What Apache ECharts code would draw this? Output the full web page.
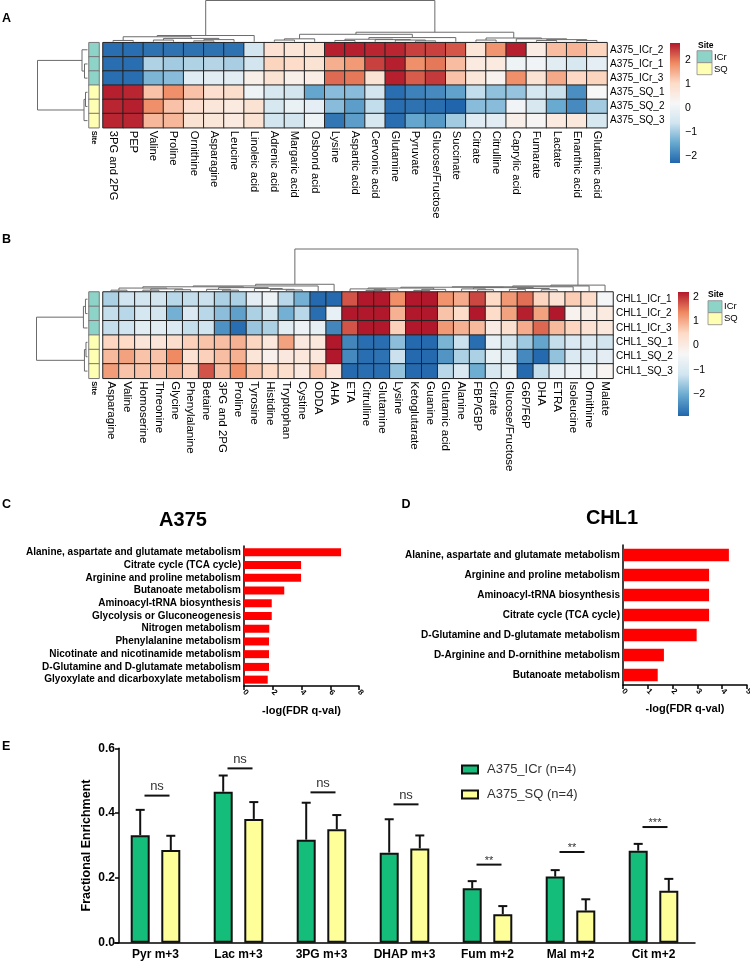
<!DOCTYPE html>
<html><head><meta charset="utf-8">
<script src="https://cdn.jsdelivr.net/npm/echarts@6/dist/echarts.min.js"></script>
<style>html,body{margin:0;padding:0;background:#fff}#c{width:750px;height:963px}</style>
</head><body><div id="c"></div>
<script>
// ---------------- Panel A heatmap ----------------
const aCols = ['3PG and 2PG','PEP','Valine','Proline','Ornithine','Asparagine','Leucine','Linoleic acid','Adrenic acid','Margaric acid','Osbond acid','Lysine','Aspartic acid','Cervonic acid','Glutamine','Pyruvate','Glucose/Fructose','Succinate','Citrate','Citrulline','Caprylic acid','Fumarate','Lactate','Enanthic acid','Glutamic acid'];
const aRows = ['A375_ICr_2','A375_ICr_1','A375_ICr_3','A375_SQ_1','A375_SQ_2','A375_SQ_3'];
const aSite = [0,0,0,1,1,1];
// values per metabolite (column), rows in aRows order
const aVals = [
 [-2.2,-2.2,-2.2,2.65,2.6,2.6],[-2.2,-2.2,-2.2,2.6,2.65,2.6],[-2.15,-0.9,-1.3,1.3,1.8,1.4],[-2.15,-1.0,-1.2,1.8,1.3,1.4],
 [-2.15,-0.9,-0.3,1.3,0.9,0.8],[-2.15,-0.85,-0.25,0.9,0.7,0.7],[-2.15,-0.95,-0.25,0.95,0.6,0.6],[-0.6,-0.6,0.45,0.0,0.8,0.8],
 [0.85,1.1,0.8,-0.5,-0.5,-0.6],[0.75,1.0,0.45,-0.6,-0.1,-0.6],[0.8,0.8,0.5,-1.5,-0.2,0.0],[2.65,1.5,2.1,-1.2,-1.2,-2.1],
 [2.65,1.7,2.0,-1.2,-1.6,-1.6],[2.6,2.4,0.8,-0.6,-0.75,-0.5],[2.6,2.65,2.65,-2.2,-2.2,-2.2],[2.4,1.8,2.2,-1.95,-2.15,-1.5],
 [2.4,2.0,2.45,-1.85,-2.2,-1.65],[2.25,1.35,1.3,-1.55,-2.3,-1.0],[0.75,0.6,0.7,-0.75,-1.2,-0.3],[1.75,0.6,0.35,-1.15,-1.2,-0.25],
 [2.65,0.0,1.8,-1.1,0.05,0.45],[0.55,0.05,0.8,-0.55,-0.5,0.25],[1.35,-0.25,1.55,-0.7,-1.45,0.6],[1.45,-0.5,1.05,-1.8,-1.85,0.65],
 [1.1,-0.2,1.1,0.2,-1.0,-0.5]
];
const aRange = [-2.3, 2.7];
const aTicks = [-2,-1,0,1,2];

// ---------------- Panel B heatmap ----------------
const bCols = ['Asparagine','Valine','Homoserine','Threonine','Glycine','Phenylalanine','Betaine','3PG and 2PG','Proline','Tyrosine','Histidine','Tryptophan','Cystine','ODDA','AHA','ETA','Citrulline','Glutamine','Lysine','Ketoglutarate','Guanine','Glutamic acid','Alanine','FBP/GBP','Citrate','Glucose/Fructose','G6P/F6P','DHA','ETRA','Isoleucine','Ornithine','Malate'];
const bRows = ['CHL1_ICr_1','CHL1_ICr_2','CHL1_ICr_3','CHL1_SQ_1','CHL1_SQ_2','CHL1_SQ_3'];
const bSite = [0,0,0,1,1,1];
const bVals = [
 [-1.5,-1.3,-1.3,0.55,0.85,1.15],[-1.2,-1.4,-1.2,0.5,1.1,0.75],[-1.15,-1.1,-0.85,0.2,0.75,0.75],[-1.15,-1.15,-0.85,0.2,0.75,0.75],
 [-1.4,-1.95,-1.0,0.4,1.35,0.9],[-1.3,-1.0,-1.3,0.6,0.3,0.6],[-1.25,-1.4,-1.2,0.75,0.6,1.75],[-1.5,-1.75,-2.35,0.8,0.8,0.8],
 [-1.5,-2.15,-2.8,0.95,0.95,1.3],[-0.8,-1.5,-1.65,0.55,0.2,0.7],[-0.55,-1.15,-1.5,0.15,-0.15,0.5],[-1.4,-1.95,-0.85,1.1,0.1,0.4],
 [-1.95,-1.4,-0.6,0.1,0.15,0.1],[-2.85,-2.8,-0.75,0.15,0.15,0.7],[-2.85,-0.7,-2.5,2.2,2.2,0.2],[1.75,2.2,1.75,-2.5,-2.45,-2.85],
 [2.2,2.2,2.2,-2.8,-2.8,-2.8],[2.2,2.2,2.2,-2.8,-2.75,-2.8],[1.3,0.95,0.6,-1.75,-1.25,-1.7],[2.2,2.2,2.2,-2.85,-2.85,-2.85],
 [2.2,2.2,2.2,-2.85,-2.85,-2.85],[1.25,0.75,1.2,-1.9,-2.3,-1.4],[1.0,0.45,0.95,-1.25,-1.5,-1.0],[1.85,2.2,0.85,-2.8,-1.5,-2.0],
 [0.5,0.45,0.0,-0.7,-0.65,-1.05],[1.2,1.1,0.35,-1.15,-1.0,-0.75],[1.55,2.15,1.0,-1.6,-2.45,-2.85],[0.55,1.1,1.6,-2.1,-2.85,-1.3],
 [0.3,2.2,0.85,-1.3,-1.7,-0.75],[0.65,-0.2,0.55,-1.0,-1.0,-0.6],[0.45,-0.1,0.3,-1.0,-1.0,-0.55],[-0.45,0.05,0.15,-1.15,-0.8,-0.25]
];
const bRange = [-2.9, 2.2];
const bTicks = [-2,-1,0,1,2];

// dendrogram trees: [height, left, right] / leaf index
const aColTree = [1,
 [0.15,[0.12,[0.03,0,1],[0.08,[0.04,2,3],[0.05,[0.02,4,5],6]]],7],
 [0.23,[0.18,[0.07,[0.04,8,9],10],[0.1,[0.06,[0.03,11,12],[0.05,13,[0.04,14,[0.02,15,16]]]],17]],[0.09,[0.04,18,19],[0.07,20,[0.05,[0.03,21,22],[0.03,23,24]]]]]];
const aRowTree = [1,[0.11,0,[0.06,1,2]],[0.07,[0.04,3,4],5]];
const bColTree = [1,
 [0.16,[0.12,[0.1,[0.07,[0.02,0,1],[0.05,[0.02,2,3],[0.03,4,5]]],[0.08,[0.04,6,[0.02,7,8]],[0.06,9,[0.04,10,[0.025,11,12]]]]],13],14],
 [0.14,[0.12,[0.1,[0.09,[0.07,[0.05,15,[0.03,[0.015,16,17],18]],[0.04,[0.015,19,20],21]],[0.08,[0.05,22,[0.03,23,24]],[0.06,[0.04,25,26],[0.03,27,28]]]],29],30],31]];
const bRowTree = [1,[0.08,[0.04,0,1],2],[0.06,[0.03,3,4],5]];

// ---------------- Panel C / D ----------------
const cCats = ['Alanine, aspartate and glutamate metabolism','Citrate cycle (TCA cycle)','Arginine and proline metabolism','Butanoate metabolism','Aminoacyl-tRNA biosynthesis','Glycolysis or Gluconeogenesis','Nitrogen metabolism','Phenylalanine metabolism','Nicotinate and nicotinamide metabolism','D-Glutamine and D-glutamate metabolism','Glyoxylate and dicarboxylate metabolism'];
const cVals = [6.75,3.97,3.97,2.8,1.93,1.93,1.76,1.74,1.74,1.74,1.65];
const dCats = ['Alanine, aspartate and glutamate metabolism','Arginine and proline metabolism','Aminoacyl-tRNA biosynthesis','Citrate cycle (TCA cycle)','D-Glutamine and D-glutamate metabolism','D-Arginine and D-ornithine metabolism','Butanoate metabolism'];
const dVals = [4.27,3.47,3.47,3.47,2.97,1.65,1.40];

// ---------------- Panel E ----------------
const eCats = ['Pyr m+3','Lac m+3','3PG m+3','DHAP m+3','Fum m+2','Mal m+2','Cit m+2'];
const icrMean = [0.332,0.466,0.318,0.278,0.168,0.204,0.284];
const icrErr  = [0.078,0.050,0.114,0.103,0.022,0.020,0.021];
const sqMean  = [0.286,0.382,0.350,0.291,0.088,0.099,0.160];
const sqErr   = [0.044,0.052,0.044,0.040,0.025,0.035,0.037];
const sigY    = [0.454,0.538,0.464,0.427,0.241,0.280,0.357];
const sigText = ['ns','ns','ns','ns','**','**','***'];
const eNames  = ['A375_ICr (n=4)','A375_SQ (n=4)'];

// ---------------- styling ----------------
const RDBU = ['#2166AC','#67A9CF','#D1E5F0','#F7F7F7','#FDDBC7','#EF8A62','#B2182B'];
const TEAL = '#8DD3C7', YEL = '#FFFFB3';
const GREEN = '#14BE7A', LYEL = '#FFFF99';
const FONT = "'Liberation Sans', Arial, sans-serif";
const BAR_W = 19, GAP_R = 0.61;
const BAR_OFF = BAR_W * (1 + GAP_R) / 2;

function heatData(cols){ const d=[]; cols.forEach((c,i)=>c.forEach((v,j)=>d.push([i,j,v]))); return d; }
function siteData(s){ return s.map((v,j)=>[0,j,v]); }
const minus = v => (v<0?'\u2212':'') + Math.abs(v);

const chart = echarts.init(document.getElementById('c'), null, {width:750, height:963});

const noAxis = {axisLine:{show:false}, axisTick:{show:false}, splitLine:{show:false}};
const blk = {color:'#000', width:1.5};

function cbarRender(params, api){
  const t = api.coord([0, api.value(2)]), b = api.coord([0, api.value(1)]);
  const w = api.size([1,0])[0];
  const stops = RDBU.slice().reverse().map((c,i)=>({offset:i/(RDBU.length-1), color:c}));
  return {type:'rect', shape:{x:t[0]-w/2, y:t[1], width:w, height:b[1]-t[1]},
    style:{fill:new echarts.graphic.LinearGradient(0,0,0,1,stops)}};
}
function errRender(sign){
  return function(params, api){
    const cat = api.value(0), m = api.value(1), e = api.value(2);
    const p0 = api.coord([cat, m]), p1 = api.coord([cat, m+e]);
    const x = p0[0] + sign*BAR_OFF;
    return {type:'group', children:[
      {type:'line', shape:{x1:x,y1:p0[1],x2:x,y2:p1[1]}, style:{stroke:'#111', lineWidth:2}},
      {type:'line', shape:{x1:x-4.5,y1:p1[1],x2:x+4.5,y2:p1[1]}, style:{stroke:'#111', lineWidth:2}}
    ]};
  };
}
function sigRender(params, api){
  const p = api.coord([api.value(0), api.value(1)]);
  const t = sigText[params.dataIndex];
  const star = t.indexOf('*') >= 0;
  return {type:'group', children:[
    {type:'line', shape:{x1:p[0]-11,y1:p[1],x2:p[0]+14,y2:p[1]}, style:{stroke:'#111', lineWidth:2}},
    {type:'text', x:p[0]+1.5, y:p[1]-(star?4:9), style:{text:t, align:'center', verticalAlign:'middle', textAlign:'center', textVerticalAlign:'middle', fontSize: star?11:13, fontFamily:FONT, fill:'#333'}}
  ]};
}

const option = {
  animation:false,
  textStyle:{fontFamily:FONT},
  grid:[
    {left:103, top:42.7, width:504, height:85, outerBoundsMode:'none'},
    {left:89, top:42.7, width:10, height:85, outerBoundsMode:'none'},
    {left:670, top:43, width:10, height:120, outerBoundsMode:'none'},
    {left:103, top:292, width:510, height:86.3, outerBoundsMode:'none'},
    {left:89, top:292, width:10, height:86.3, outerBoundsMode:'none'},
    {left:678, top:292, width:11, height:124, outerBoundsMode:'none'},
    {left:244, top:546, width:115, height:140, outerBoundsMode:'none'},
    {left:623, top:545, width:124, height:140, outerBoundsMode:'none'},
    {left:114, top:748.3, width:581, height:194.4, outerBoundsMode:'none'}
  ],
  xAxis:[
    Object.assign({gridIndex:0, type:'category', data:aCols, axisLabel:{rotate:-90, margin:3, fontSize:11.2, color:'#000', interval:0}}, noAxis),
    Object.assign({gridIndex:1, type:'category', data:['Site'], axisLabel:{rotate:-90, margin:3, fontSize:7.5, fontWeight:'bold', color:'#000'}}, noAxis),
    Object.assign({gridIndex:2, type:'category', data:[''], axisLabel:{show:false}}, noAxis),
    Object.assign({gridIndex:3, type:'category', data:bCols, axisLabel:{rotate:-90, margin:3, fontSize:11.5, color:'#000', interval:0}}, noAxis),
    Object.assign({gridIndex:4, type:'category', data:['Site'], axisLabel:{rotate:-90, margin:3, fontSize:7.5, fontWeight:'bold', color:'#000'}}, noAxis),
    Object.assign({gridIndex:5, type:'category', data:[''], axisLabel:{show:false}}, noAxis),
    {gridIndex:6, type:'value', min:0, max:8, interval:2, axisLine:{show:true, lineStyle:blk}, axisTick:{show:true, length:4, lineStyle:blk}, splitLine:{show:false},
      axisLabel:{rotate:-45, fontSize:8, fontWeight:'bold', color:'#000', margin:5},
      name:'-log(FDR q-val)', nameLocation:'middle', nameGap:19, nameTextStyle:{fontSize:11, fontWeight:'bold', color:'#000'}},
    {gridIndex:7, type:'value', min:0, max:5, interval:1, axisLine:{show:true, lineStyle:blk}, axisTick:{show:true, length:4, lineStyle:blk}, splitLine:{show:false},
      axisLabel:{rotate:-45, fontSize:8, fontWeight:'bold', color:'#000', margin:5},
      name:'-log(FDR q-val)', nameLocation:'middle', nameGap:18, nameTextStyle:{fontSize:11, fontWeight:'bold', color:'#000'}},
    {gridIndex:8, type:'category', data:eCats, axisLine:{lineStyle:blk}, axisTick:{alignWithLabel:true, length:4, lineStyle:blk},
      axisLabel:{fontSize:12, fontWeight:'bold', color:'#000', margin:6, interval:0}}
  ],
  yAxis:[
    Object.assign({gridIndex:0, type:'category', data:aRows, inverse:true, position:'right', axisLabel:{fontSize:10, margin:3, color:'#000'}}, noAxis),
    Object.assign({gridIndex:1, type:'category', data:aRows, inverse:true, axisLabel:{show:false}}, noAxis),
    Object.assign({gridIndex:2, type:'value', min:aRange[0], max:aRange[1], position:'right', axisLabel:{customValues:aTicks, formatter:minus, fontSize:10.5, margin:5, color:'#000'}}, noAxis),
    Object.assign({gridIndex:3, type:'category', data:bRows, inverse:true, position:'right', axisLabel:{fontSize:10, margin:3, color:'#000'}}, noAxis),
    Object.assign({gridIndex:4, type:'category', data:bRows, inverse:true, axisLabel:{show:false}}, noAxis),
    Object.assign({gridIndex:5, type:'value', min:bRange[0], max:bRange[1], position:'right', axisLabel:{customValues:bTicks, formatter:minus, fontSize:10.5, margin:4, color:'#000'}}, noAxis),
    {gridIndex:6, type:'category', data:cCats, inverse:true, axisLine:{lineStyle:blk}, axisTick:{alignWithLabel:true, length:3, lineStyle:blk},
      axisLabel:{fontSize:10, fontWeight:'bold', color:'#000', margin:3, interval:0}},
    {gridIndex:7, type:'category', data:dCats, inverse:true, axisLine:{lineStyle:blk}, axisTick:{alignWithLabel:true, length:3, lineStyle:blk},
      axisLabel:{fontSize:10, fontWeight:'bold', color:'#000', margin:3, interval:0}},
    {gridIndex:8, type:'value', min:0, max:0.6, interval:0.2, offset:-5, axisLine:{show:true, lineStyle:blk}, axisTick:{show:true, length:4, lineStyle:blk}, splitLine:{show:false},
      axisLabel:{formatter:v=>v.toFixed(1), fontSize:12, fontWeight:'bold', color:'#000', margin:4},
      name:'Fractional Enrichment', nameLocation:'middle', nameGap:26, nameMoveOverlap:false, nameTextStyle:{fontSize:12.5, fontWeight:'bold', color:'#000'}}
  ],
  visualMap:[
    {type:'continuous', seriesIndex:0, min:aRange[0], max:aRange[1], inRange:{color:RDBU}, show:false},
    {type:'piecewise', seriesIndex:[1,4], pieces:[{value:0, color:TEAL},{value:1, color:YEL}], show:false},
    {type:'continuous', seriesIndex:3, min:bRange[0], max:bRange[1], inRange:{color:RDBU}, show:false}
  ],
  legend:{data:eNames, orient:'vertical', left:461, top:763, padding:0, itemWidth:16, itemHeight:8, itemGap:12, icon:'rect', selectedMode:false,
    textStyle:{fontSize:13, color:'#333', padding:[0,0,0,4]}},
  series:[
    {type:'heatmap', xAxisIndex:0, yAxisIndex:0, data:heatData(aVals), itemStyle:{borderColor:'#222', borderWidth:1}, emphasis:{disabled:true}},
    {type:'heatmap', xAxisIndex:1, yAxisIndex:1, data:siteData(aSite), itemStyle:{borderColor:'#777', borderWidth:1}, emphasis:{disabled:true}},
    {type:'custom', xAxisIndex:2, yAxisIndex:2, data:[[0, aRange[0], aRange[1]]], renderItem:cbarRender, silent:true},
    {type:'heatmap', xAxisIndex:3, yAxisIndex:3, data:heatData(bVals), itemStyle:{borderColor:'#222', borderWidth:1}, emphasis:{disabled:true}},
    {type:'heatmap', xAxisIndex:4, yAxisIndex:4, data:siteData(bSite), itemStyle:{borderColor:'#777', borderWidth:1}, emphasis:{disabled:true}},
    {type:'custom', xAxisIndex:5, yAxisIndex:5, data:[[0, bRange[0], bRange[1]]], renderItem:cbarRender, silent:true},
    {type:'bar', xAxisIndex:6, yAxisIndex:6, data:cVals, barCategoryGap:'37%', itemStyle:{color:'#FF0000'}, silent:true},
    {type:'bar', xAxisIndex:7, yAxisIndex:7, data:dVals, barCategoryGap:'38%', itemStyle:{color:'#FF0000'}, silent:true},
    {type:'bar', name:eNames[0], xAxisIndex:8, yAxisIndex:8, data:icrMean, barWidth:BAR_W, barGap:(GAP_R*100)+'%', itemStyle:{color:GREEN, borderColor:'#111', borderWidth:2}, silent:true},
    {type:'bar', name:eNames[1], xAxisIndex:8, yAxisIndex:8, data:sqMean, barWidth:BAR_W, itemStyle:{color:LYEL, borderColor:'#111', borderWidth:2}, silent:true},
    {type:'custom', xAxisIndex:8, yAxisIndex:8, data:icrMean.map((m,i)=>[i,m,icrErr[i]]), renderItem:errRender(-1), silent:true, z:3},
    {type:'custom', xAxisIndex:8, yAxisIndex:8, data:sqMean.map((m,i)=>[i,m,sqErr[i]]), renderItem:errRender(1), silent:true, z:3},
    {type:'custom', xAxisIndex:8, yAxisIndex:8, data:sigY.map((y,i)=>[i,y]), renderItem:sigRender, silent:true, z:3}
  ]
};
chart.setOption(option);

// ---------- dendrograms and annotation legends ----------
function dendro(tree, leafPos, toPix){
  const out = [];
  (function walk(n){
    if (typeof n === 'number') return {p:leafPos(n), h:0};
    const a = walk(n[1]), b = walk(n[2]), h = n[0];
    out.push({type:'polyline', silent:true, shape:{points:[toPix(a.p,a.h),toPix(a.p,h),toPix(b.p,h),toPix(b.p,b.h)]},
      style:{stroke:'#6b6b6b', fill:null, lineWidth:1}});
    return {p:(a.p+b.p)/2, h};
  })(tree);
  return out;
}
const px = (axis, i) => chart.convertToPixel(axis, i);
let g = [];
g = g.concat(dendro(aColTree, i=>px({xAxisIndex:0}, i), (p,h)=>[p, 41.7 - h*41.2]));
g = g.concat(dendro(aRowTree, i=>px({yAxisIndex:0}, i), (p,h)=>[87.5 - h*50, p]));
g = g.concat(dendro(bColTree, i=>px({xAxisIndex:3}, i), (p,h)=>[p, 291 - h*42]));
g = g.concat(dendro(bRowTree, i=>px({yAxisIndex:3}, i), (p,h)=>[87.5 - h*51, p]));

function txt(x, y, t, size, weight, align, color){
  return {type:'text', x:x, y:y, silent:true, style:{text:t, fontSize:size, fontWeight:weight||'normal', fontFamily:FONT, fill:color||'#000',
    align:align||'left', verticalAlign:'middle', textAlign:align||'left', textVerticalAlign:'middle'}};
}
function box(x, y, w, h, c){ return {type:'rect', silent:true, shape:{x:x,y:y,width:w,height:h}, style:{fill:c, stroke:'#888', lineWidth:0.8}}; }
g.push(txt(2,19,'A',12.5,'bold'), txt(2,239.5,'B',12.5,'bold'), txt(2,504.7,'C',12.5,'bold'), txt(401.5,504.5,'D',12.5,'bold'), txt(2,747,'E',12.5,'bold'));
g.push(txt(183,520,'A375',20,'bold','center'), txt(612,518,'CHL1',20,'bold','center'));
g.push(txt(698,46,'Site',8.5,'bold'), box(697,50.7,15,12,TEAL), box(697,62.7,15,12,YEL), txt(714,57,'ICr',9.5), txt(714,69,'SQ',9.5));
g.push(txt(708,295,'Site',8.5,'bold'), box(708,300.7,14,12,TEAL), box(708,312.7,14,12,YEL), txt(724,306.7,'ICr',9.5), txt(724,318.7,'SQ',9.5));
chart.setOption({graphic:{elements:g}});
</script></body></html>
